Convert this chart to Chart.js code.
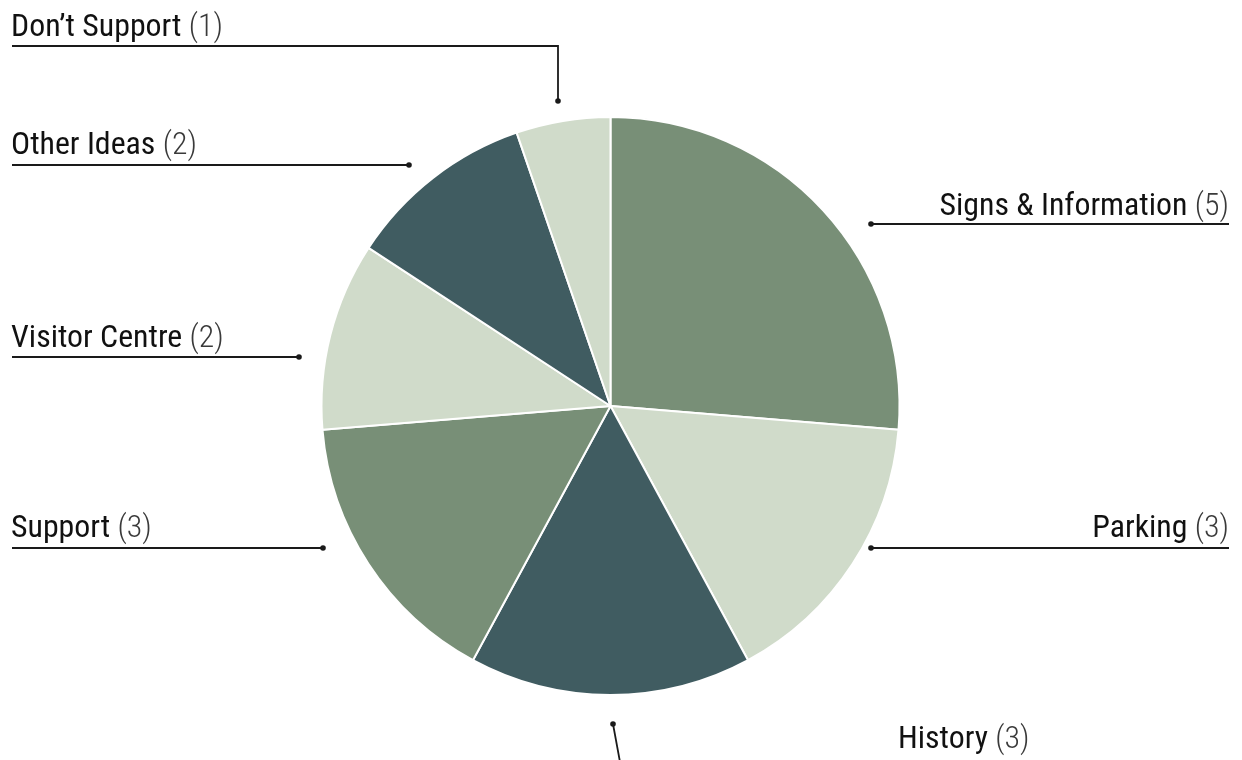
<!DOCTYPE html>
<html>
<head>
<meta charset="utf-8">
<script src="https://cdn.jsdelivr.net/npm/chart.js@4.4.1/dist/chart.umd.min.js"></script>
<style>
  html, body { margin: 0; padding: 0; background: #fff; }
  #wrap { width: 1242px; height: 760px; }
</style>
</head>
<body>
<div id="wrap"><canvas id="chart" width="1242" height="760"></canvas></div>
<script>
const categories = ['Signs & Information', 'Parking', 'History', 'Support', 'Visitor Centre', 'Other Ideas', 'Don\u2019t Support'];
const counts = [5, 3, 3, 3, 2, 2, 1];
const sliceColors = ['#788f77', '#d0dbca', '#405c61', '#788f77', '#d0dbca', '#405c61', '#d0dbca'];

// callout layout, same order as categories: rule path starts at the dot
const callouts = [
    { pts: [[871, 224], [1229, 224]], tx: 1229, ty: 215, align: 'right' },
    { pts: [[871, 548], [1229, 548]], tx: 1229, ty: 537, align: 'right' },
    { pts: [[613, 724], [620, 762], [1030, 762]], tx: 898, ty: 748, align: 'left' },
    { pts: [[323, 548], [12, 548]], tx: 11, ty: 537, align: 'left' },
    { pts: [[299, 357], [12, 357]], tx: 11, ty: 347, align: 'left' },
    { pts: [[409, 165], [12, 165]], tx: 11, ty: 154, align: 'left' },
    { pts: [[558, 101], [558, 46], [12, 46]], tx: 11, ty: 36, align: 'left' },
];

const FONT_SIZE = 32;

function hasFont(ctx, fam) {
    const probe = 'abcdefghiWWmm';
    ctx.font = '40px monospace';
    const a = ctx.measureText(probe).width;
    ctx.font = '40px "' + fam + '", monospace';
    return ctx.measureText(probe).width !== a;
}

const calloutPlugin = {
    id: 'callouts',
    afterDraw(chart) {
        const ctx = chart.ctx;
        ctx.save();
        const fam = ['Roboto Condensed', 'Liberation Sans Narrow', 'Arial Narrow', 'Roboto'].find(f => hasFont(ctx, f)) || 'sans-serif';
        // squeeze horizontally so a regular face reads like the condensed one
        ctx.font = '400 ' + FONT_SIZE + 'px "' + fam + '"';
        let w = ctx.measureText('Don\u2019t Support ').width;
        ctx.font = '300 ' + FONT_SIZE + 'px "' + fam + '"';
        w += ctx.measureText('(1)').width;
        const sx = Math.min(1, Math.max(0.7, 212 / w));

        ctx.strokeStyle = '#1a1a1a';
        ctx.fillStyle = '#1a1a1a';
        ctx.lineWidth = 1.8;
        categories.forEach((name, i) => {
            const c = callouts[i];
            ctx.beginPath();
            c.pts.forEach((p, k) => k ? ctx.lineTo(p[0], p[1]) : ctx.moveTo(p[0], p[1]));
            ctx.stroke();
            ctx.beginPath();
            ctx.arc(c.pts[0][0], c.pts[0][1], 2.8, 0, Math.PI * 2);
            ctx.fill();

            const head = name + ' ';
            const tail = '(' + counts[i] + ')';
            ctx.font = '400 ' + FONT_SIZE + 'px "' + fam + '"';
            const hw = ctx.measureText(head).width;
            ctx.font = '300 ' + FONT_SIZE + 'px "' + fam + '"';
            const tw = ctx.measureText(tail).width;
            const x0 = c.align === 'right' ? c.tx - (hw + tw) * sx : c.tx;
            ctx.save();
            ctx.translate(x0, c.ty);
            ctx.scale(sx, 1);
            ctx.textBaseline = 'alphabetic';
            ctx.textAlign = 'left';
            ctx.font = '400 ' + FONT_SIZE + 'px "' + fam + '"';
            ctx.fillStyle = '#111';
            ctx.fillText(head, 0, 0);
            ctx.font = '300 ' + FONT_SIZE + 'px "' + fam + '"';
            ctx.fillStyle = '#3a3a3a';
            ctx.fillText(tail, hw, 0);
            ctx.restore();
        });
        ctx.restore();
    }
};

new Chart(document.getElementById('chart'), {
    type: 'pie',
    data: {
        labels: categories,
        datasets: [{
            data: counts,
            backgroundColor: sliceColors,
            borderColor: '#ffffff',
            borderWidth: 2,
        }]
    },
    options: {
        responsive: false,
        devicePixelRatio: 1,
        animation: false,
        layout: { padding: { top: 116, bottom: 64, left: 0, right: 21 } },
        plugins: {
            legend: { display: false },
            tooltip: { enabled: false },
        },
    },
    plugins: [calloutPlugin],
});
</script>
</body>
</html>
